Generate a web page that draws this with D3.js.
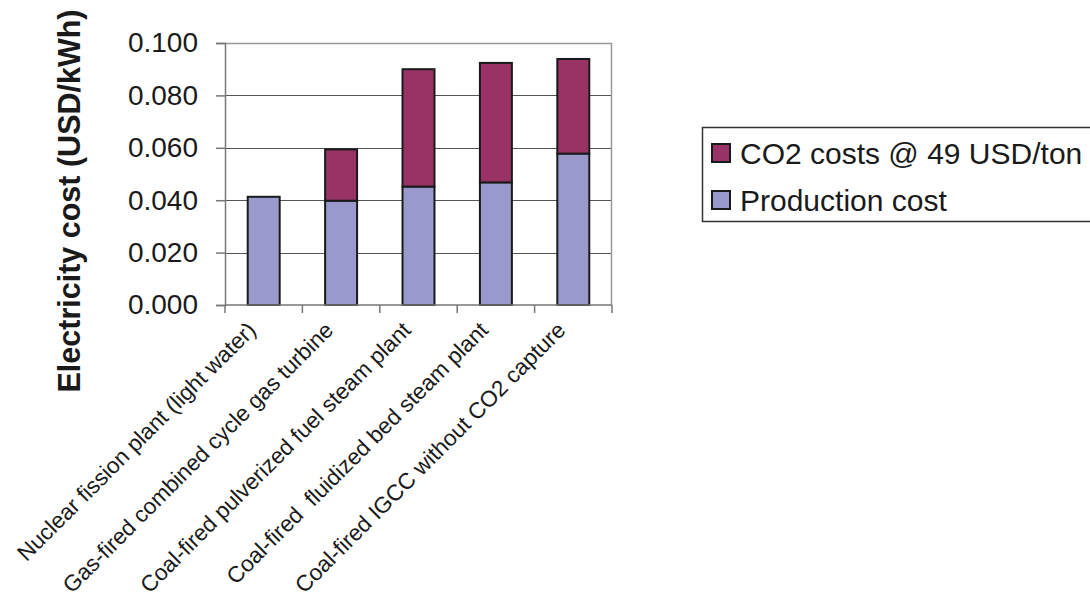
<!DOCTYPE html>
<html>
<head>
<meta charset="utf-8">
<script src="https://cdn.jsdelivr.net/npm/d3@7"></script>
<style>
  html, body { margin: 0; padding: 0; background: #fff; }
  svg { display: block; font-family: "Liberation Sans", Arial, sans-serif; }
</style>
</head>
<body>
<svg id="chart" width="1090" height="602"></svg>
<script>
// Plant types and their electricity cost components (USD/kWh)
const categories = [
  "Nuclear fission plant (light water)",
  "Gas-fired combined cycle gas turbine",
  "Coal-fired pulverized fuel steam plant",
  "Coal-fired  fluidized bed steam plant",
  "Coal-fired IGCC without CO2 capture"
];
const productionCost = [0.0413, 0.0398, 0.0452, 0.0468, 0.0578];
const co2Cost = [0.0, 0.0196, 0.0448, 0.0456, 0.0361];
const yTicks = [0, 0.02, 0.04, 0.06, 0.08, 0.1];

const seriesKeys = ["production", "co2"];
const seriesNames = { co2: "CO2 costs @ 49 USD/ton", production: "Production cost" };
const seriesColors = { production: "#9999cc", co2: "#993366" };

const rows = categories.map((c, i) => ({ category: c, production: productionCost[i], co2: co2Cost[i] }));

const svg = d3.select("#chart");
const plot = { left: 225, right: 612, top: 43, bottom: 305 };

const x = d3.scaleBand()
  .domain(categories)
  .range([plot.left, plot.right])
  .paddingInner(0.587)
  .paddingOuter(0.2935);

const y = d3.scaleLinear().domain([0, 0.1]).range([plot.bottom, plot.top]);

// Horizontal gridlines
svg.append("g")
  .selectAll("line")
  .data(yTicks.filter(t => t > 0 && t < 0.1))
  .join("line")
  .attr("x1", plot.left).attr("x2", plot.right)
  .attr("y1", d => Math.round(y(d)) + 0.5).attr("y2", d => Math.round(y(d)) + 0.5)
  .attr("stroke", "#555").attr("stroke-width", 1);

// Plot frame (top and right)
svg.append("path")
  .attr("d", `M${plot.left},${plot.top + 0.5}H${plot.right - 0.5}V${plot.bottom}`)
  .attr("fill", "none").attr("stroke", "#999").attr("stroke-width", 1.5);

// Stacked bars
const stacked = d3.stack().keys(seriesKeys)(rows);
svg.append("g")
  .selectAll("g")
  .data(stacked)
  .join("g")
  .attr("fill", d => seriesColors[d.key])
  .selectAll("rect")
  .data(d => d.filter(s => s[1] - s[0] > 0))
  .join("rect")
  .attr("x", d => x(d.data.category))
  .attr("width", x.bandwidth())
  .attr("y", d => y(d[1]))
  .attr("height", d => y(d[0]) - y(d[1]))
  .attr("stroke", "#1a1a1a").attr("stroke-width", 2);

// Y axis
const yAxis = d3.axisLeft(y).tickValues(yTicks).tickFormat(d3.format(".3f")).tickSize(9).tickPadding(18);
const yg = svg.append("g").attr("transform", `translate(${plot.left},0)`).call(yAxis);
yg.select(".domain").attr("stroke", "#777").attr("stroke-width", 1.5);
yg.selectAll(".tick line").attr("stroke", "#777").attr("stroke-width", 1.5);
yg.selectAll(".tick text").attr("font-size", 28).attr("fill", "#1a1a1a")
  .attr("font-family", "'Liberation Sans', Arial, sans-serif");

// X axis: ticks at category boundaries
const boundaries = categories.map(c => x(c) - x.step() * x.paddingInner() / 2).concat([plot.right]);
svg.append("line")
  .attr("x1", plot.left).attr("x2", plot.right)
  .attr("y1", plot.bottom).attr("y2", plot.bottom)
  .attr("stroke", "#777").attr("stroke-width", 1.5);
svg.append("g").selectAll("line")
  .data(boundaries)
  .join("line")
  .attr("x1", d => d).attr("x2", d => d)
  .attr("y1", plot.bottom).attr("y2", plot.bottom + 8)
  .attr("stroke", "#777").attr("stroke-width", 1.5);

// Rotated category labels
svg.append("g").selectAll("text")
  .data(categories)
  .join("text")
  .attr("transform", d => `translate(${x(d) + x.bandwidth() / 2 - 12},${plot.bottom + 21}) rotate(-45)`)
  .attr("text-anchor", "end")
  .attr("dy", "0.35em")
  .attr("font-size", 22.5)
  .attr("fill", "#1a1a1a")
  .style("white-space", "pre")
  .text(d => d);

// Y axis title
svg.append("text")
  .attr("transform", `translate(80,${(plot.top + plot.bottom) / 2 + 27}) rotate(-90)`)
  .attr("text-anchor", "middle")
  .attr("font-size", 30.5)
  .attr("font-weight", "bold")
  .attr("fill", "#1a1a1a")
  .text("Electricity cost (USD/kWh)");

// Legend
const legend = svg.append("g");
legend.append("rect")
  .attr("x", 702.5).attr("y", 127.5).attr("width", 420).attr("height", 94)
  .attr("fill", "#fff").attr("stroke", "#333").attr("stroke-width", 1.5);
const legendItems = ["co2", "production"];
legendItems.forEach((k, i) => {
  const cy = 153 + i * 47;
  legend.append("rect")
    .attr("x", 712).attr("y", cy - 9).attr("width", 18).attr("height", 18)
    .attr("fill", seriesColors[k]).attr("stroke", "#1a1a1a").attr("stroke-width", 2);
  legend.append("text")
    .attr("x", 740).attr("y", cy).attr("dy", "0.36em")
    .attr("font-size", 30).attr("fill", "#1a1a1a")
    .text(seriesNames[k]);
});
</script>
</body>
</html>
